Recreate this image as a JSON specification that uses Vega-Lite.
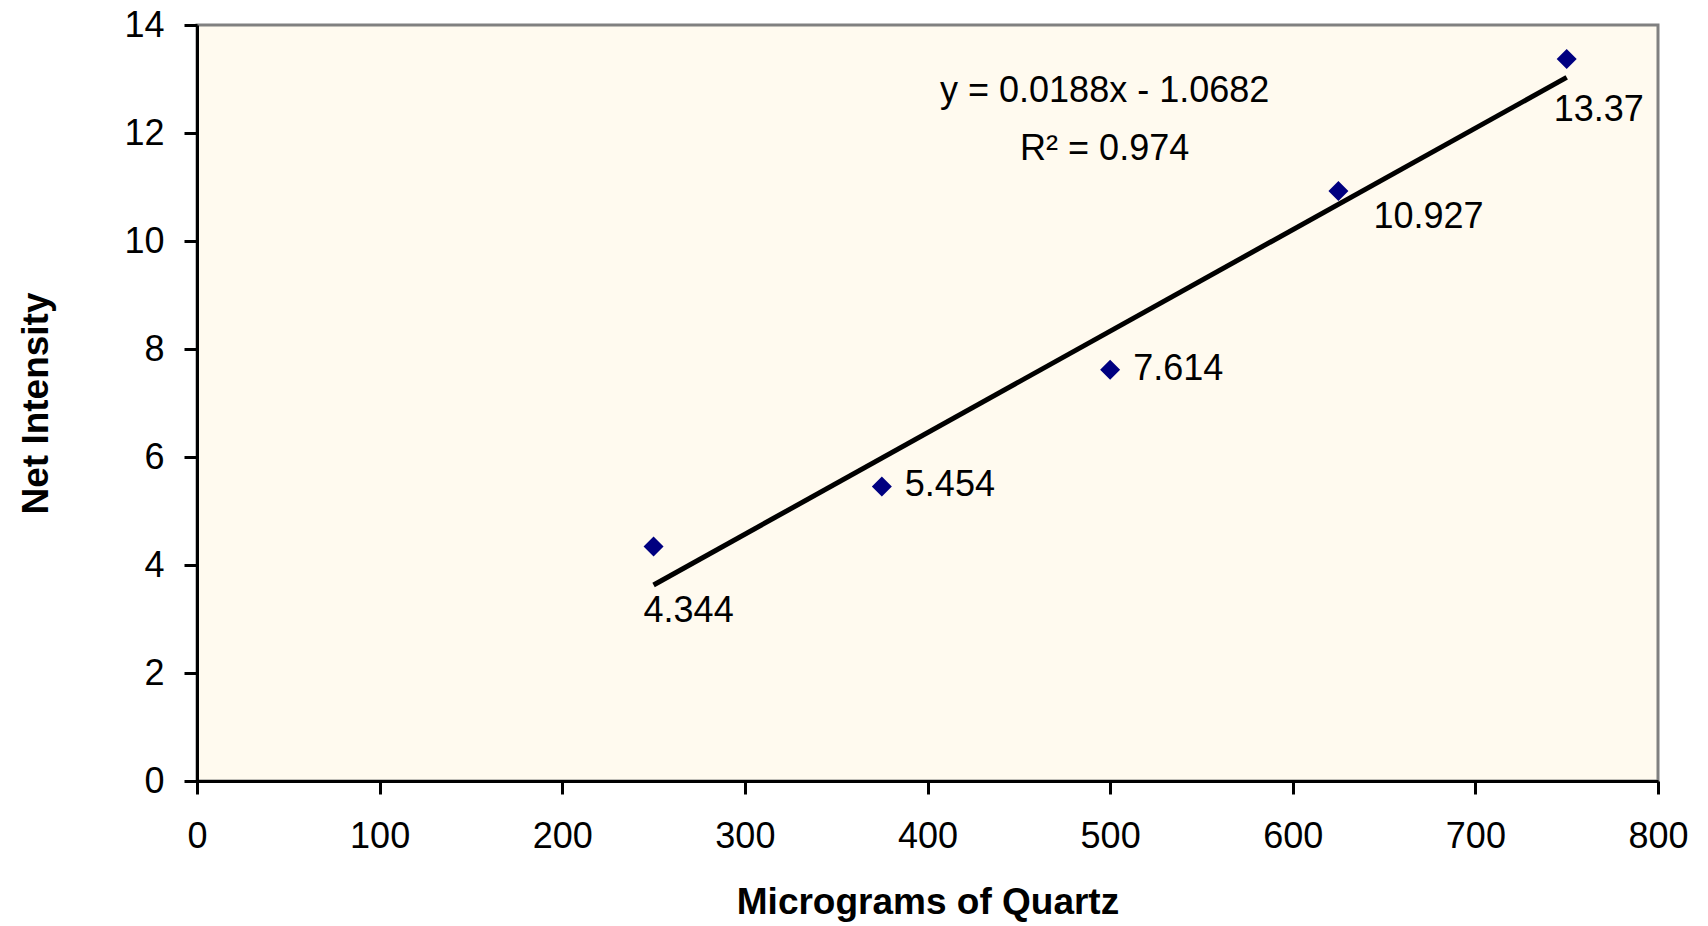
{
  "$schema": "https://vega.github.io/schema/vega-lite/v6.json",
  "autosize": {"type": "none"},
  "padding": {"left": 197, "top": 25, "right": 50, "bottom": 145},
  "width": 1461,
  "height": 756,
  "background": "#ffffff",
  "config": {
    "view": {"stroke": "#808080", "strokeWidth": 3, "fill": "#FFFAEF"},
    "font": "Liberation Sans",
    "axis": {
      "grid": false,
      "domainColor": "#000000",
      "domainWidth": 3,
      "tickColor": "#000000",
      "tickWidth": 3,
      "tickSize": 13,
      "labelFont": "Liberation Sans",
      "labelFontSize": 36,
      "labelColor": "#000000",
      "titleFont": "Liberation Sans",
      "titleFontSize": 37,
      "titleFontWeight": "bold",
      "titleColor": "#000000"
    }
  },
  "datasets": {
    "points": [
      {"x": 250, "y": 4.344},
      {"x": 375, "y": 5.454},
      {"x": 500, "y": 7.614},
      {"x": 625, "y": 10.927},
      {"x": 750, "y": 13.37}
    ],
    "trend": [
      {"x": 250, "y": 3.63},
      {"x": 750, "y": 13.03}
    ],
    "equation": [
      {"x": 497, "y": 12.77, "text": "y = 0.0188x - 1.0682"},
      {"x": 497, "y": 11.7, "text": "R² = 0.974"}
    ]
  },
  "layer": [
    {
      "data": {"name": "trend"},
      "mark": {"type": "line", "color": "#000000", "strokeWidth": 5, "clip": true},
      "encoding": {
        "x": {
          "field": "x", "type": "quantitative",
          "scale": {"domain": [0, 800], "nice": false, "zero": false},
          "axis": {
            "title": "Micrograms of Quartz",
            "values": [0, 100, 200, 300, 400, 500, 600, 700, 800],
            "labelPadding": 25,
            "labelFlush": false,
            "labelOverlap": false,
            "titleY": 132,
            "titleBaseline": "alphabetic"
          }
        },
        "y": {
          "field": "y", "type": "quantitative",
          "scale": {"domain": [0, 14], "nice": false, "zero": false},
          "axis": {
            "title": "Net Intensity",
            "values": [0, 2, 4, 6, 8, 10, 12, 14],
            "labelPadding": 20,
            "labelFlush": false,
            "labelOverlap": false,
            "titleX": -150,
            "titleY": 378,
            "titleAngle": -90,
            "titleAlign": "center",
            "titleBaseline": "alphabetic"
          }
        }
      }
    },
    {
      "data": {"name": "points"},
      "mark": {"type": "point", "shape": "diamond", "filled": true, "color": "#000080", "size": 400, "opacity": 1},
      "encoding": {
        "x": {"field": "x", "type": "quantitative"},
        "y": {"field": "y", "type": "quantitative"}
      }
    },
    {
      "data": {"name": "points"},
      "transform": [{"filter": "datum.x == 375 || datum.x == 500"}],
      "mark": {"type": "text", "align": "left", "baseline": "middle", "dx": 23, "dy": -1, "fontSize": 36, "font": "Liberation Sans", "color": "#000000"},
      "encoding": {
        "x": {"field": "x", "type": "quantitative"},
        "y": {"field": "y", "type": "quantitative"},
        "text": {"field": "y", "type": "nominal"}
      }
    },
    {
      "data": {"name": "points"},
      "transform": [{"filter": "datum.x == 625"}],
      "mark": {"type": "text", "align": "left", "baseline": "middle", "dx": 35, "dy": 26, "fontSize": 36, "font": "Liberation Sans", "color": "#000000"},
      "encoding": {
        "x": {"field": "x", "type": "quantitative"},
        "y": {"field": "y", "type": "quantitative"},
        "text": {"field": "y", "type": "nominal"}
      }
    },
    {
      "data": {"name": "points"},
      "transform": [{"filter": "datum.x == 250"}],
      "mark": {"type": "text", "align": "left", "baseline": "middle", "dx": -10, "dy": 65, "fontSize": 36, "font": "Liberation Sans", "color": "#000000"},
      "encoding": {
        "x": {"field": "x", "type": "quantitative"},
        "y": {"field": "y", "type": "quantitative"},
        "text": {"field": "y", "type": "nominal"}
      }
    },
    {
      "data": {"name": "points"},
      "transform": [{"filter": "datum.x == 750"}],
      "mark": {"type": "text", "align": "left", "baseline": "middle", "dx": -13, "dy": 51, "fontSize": 36, "font": "Liberation Sans", "color": "#000000"},
      "encoding": {
        "x": {"field": "x", "type": "quantitative"},
        "y": {"field": "y", "type": "quantitative"},
        "text": {"field": "y", "type": "nominal"}
      }
    },
    {
      "data": {"name": "equation"},
      "mark": {"type": "text", "align": "center", "baseline": "middle", "fontSize": 36, "font": "Liberation Sans", "color": "#000000"},
      "encoding": {
        "x": {"field": "x", "type": "quantitative"},
        "y": {"field": "y", "type": "quantitative"},
        "text": {"field": "text", "type": "nominal"}
      }
    }
  ]
}
